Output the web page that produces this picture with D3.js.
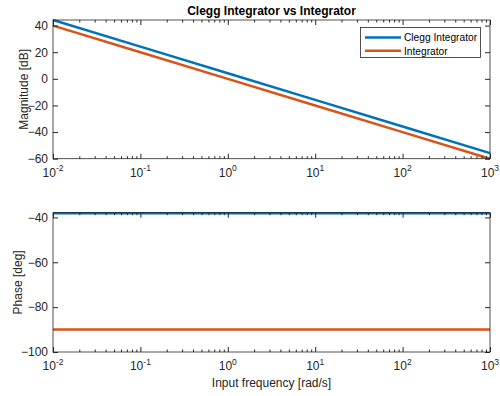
<!DOCTYPE html>
<html><head><meta charset="utf-8">
<script src="https://cdn.jsdelivr.net/npm/d3@7"></script>
<style>body{margin:0;background:#fff}svg{display:block}text{font-family:"Liberation Sans",Arial,sans-serif}</style>
</head><body>
<svg id="c" width="500" height="396"></svg>
<script>
const freq = [0.01, 0.1, 1, 10, 100, 1000];
const cleggMag = [44.19, 24.19, 4.19, -15.81, -35.81, -55.81];
const integMag = [40, 20, 0, -20, -40, -60];
const cleggPhase = [-38.15, -38.15, -38.15, -38.15, -38.15, -38.15];
const integPhase = [-90, -90, -90, -90, -90, -90];
const xTickExp = [-2, -1, 0, 1, 2, 3];
const magTicks = [40, 20, 0, -20, -40, -60];
const phaseTicks = [-40, -60, -80, -100];
const seriesNames = ["Clegg Integrator", "Integrator"];
const colors = ["#0072BD", "#D95319"];

const svg = d3.select("#c");
const axCol = "#262626";
const x = d3.scaleLog().domain([0.01, 1000]).range([53, 490]);
const yMag = d3.scaleLinear().domain([-60, 44.19]).range([158.7, 20]);
const yPh = d3.scaleLinear().domain([-100, -37.9]).range([352, 212.7]);

function minorTicks() {
  const out = [];
  for (let e = -2; e < 3; e++) for (let k = 2; k <= 9; k++) out.push(k * Math.pow(10, e));
  return out;
}

function panel(y, yTicks, series, ylabel, xlabel) {
  const [x0, x1] = x.range();
  const [yb, yt] = y.range();
  const g = svg.append("g");
  const line = d3.line().x((d, i) => x(freq[i])).y(d => y(d));
  series.forEach((s, i) => {
    g.append("path").attr("d", line(s)).attr("fill", "none")
      .attr("stroke", colors[i]).attr("stroke-width", 2.5);
  });
  g.append("rect").attr("x", x0).attr("y", yt).attr("width", x1 - x0).attr("height", yb - yt)
    .attr("fill", "none").attr("stroke", axCol).attr("stroke-width", 0.8);
  const styl = s => { s.select(".domain").remove(); s.selectAll("line").attr("stroke", axCol); };
  g.append("g").attr("transform", `translate(0,${yb})`)
    .call(d3.axisBottom(x).tickValues(freq).tickSize(-5).tickFormat("")).call(styl);
  g.append("g").attr("transform", `translate(0,${yt})`)
    .call(d3.axisTop(x).tickValues(freq).tickSize(-5).tickFormat("")).call(styl);
  g.append("g").attr("transform", `translate(0,${yb})`)
    .call(d3.axisBottom(x).tickValues(minorTicks()).tickSize(-2.5).tickFormat("")).call(styl);
  g.append("g").attr("transform", `translate(0,${yt})`)
    .call(d3.axisTop(x).tickValues(minorTicks()).tickSize(-2.5).tickFormat("")).call(styl);
  xTickExp.forEach((e, i) => {
    const t = g.append("text").attr("x", x(freq[i])).attr("y", yb + 18)
      .attr("text-anchor", "middle").attr("fill", axCol).attr("font-size", 12);
    t.append("tspan").text("10");
    t.append("tspan").attr("dy", -5.5).attr("font-size", 8.5).text(String(e));
  });
  g.append("g").attr("transform", `translate(${x0},0)`)
    .call(d3.axisLeft(y).tickValues(yTicks).tickSize(-5).tickPadding(6))
    .call(s => {
      styl(s);
      s.selectAll("text").attr("fill", axCol).attr("font-size", 12)
        .attr("font-family", "Liberation Sans, Arial, sans-serif").attr("x", -5);
    });
  g.append("g").attr("transform", `translate(${x1},0)`)
    .call(d3.axisRight(y).tickValues(yTicks).tickSize(-5).tickFormat("")).call(styl);
  g.append("text").attr("transform", `translate(${ylabel[1]},${(yb + yt) / 2}) rotate(-90)`)
    .attr("text-anchor", "middle").attr("fill", axCol).attr("font-size", 12).text(ylabel[0]);
  if (xlabel) {
    g.append("text").attr("x", (x0 + x1) / 2).attr("y", 387).attr("text-anchor", "middle")
      .attr("fill", axCol).attr("font-size", 12).text(xlabel);
  }
  return g;
}

panel(yMag, magTicks, [cleggMag, integMag], ["Magnitude [dB]", 27.5]);
panel(yPh, phaseTicks, [cleggPhase, integPhase], ["Phase [deg]", 21.5], "Input frequency [rad/s]");

svg.append("text").attr("x", 271.5).attr("y", 15).attr("text-anchor", "middle")
  .attr("font-weight", "bold").attr("font-size", 12).attr("fill", "#000")
  .text("Clegg Integrator vs Integrator");

const lg = svg.append("g");
lg.append("rect").attr("x", 360.5).attr("y", 27.5).attr("width", 120).attr("height", 30)
  .attr("fill", "#fff").attr("stroke", axCol).attr("stroke-width", 0.8);
seriesNames.forEach((n, i) => {
  const yy = 37.5 + i * 13.3;
  lg.append("line").attr("x1", 365).attr("x2", 401).attr("y1", yy).attr("y2", yy)
    .attr("stroke", colors[i]).attr("stroke-width", 2.5);
  lg.append("text").attr("x", 404).attr("y", yy + 3.8).attr("font-size", 10.2)
    .attr("fill", "#000").text(n);
});
</script>
</body></html>
